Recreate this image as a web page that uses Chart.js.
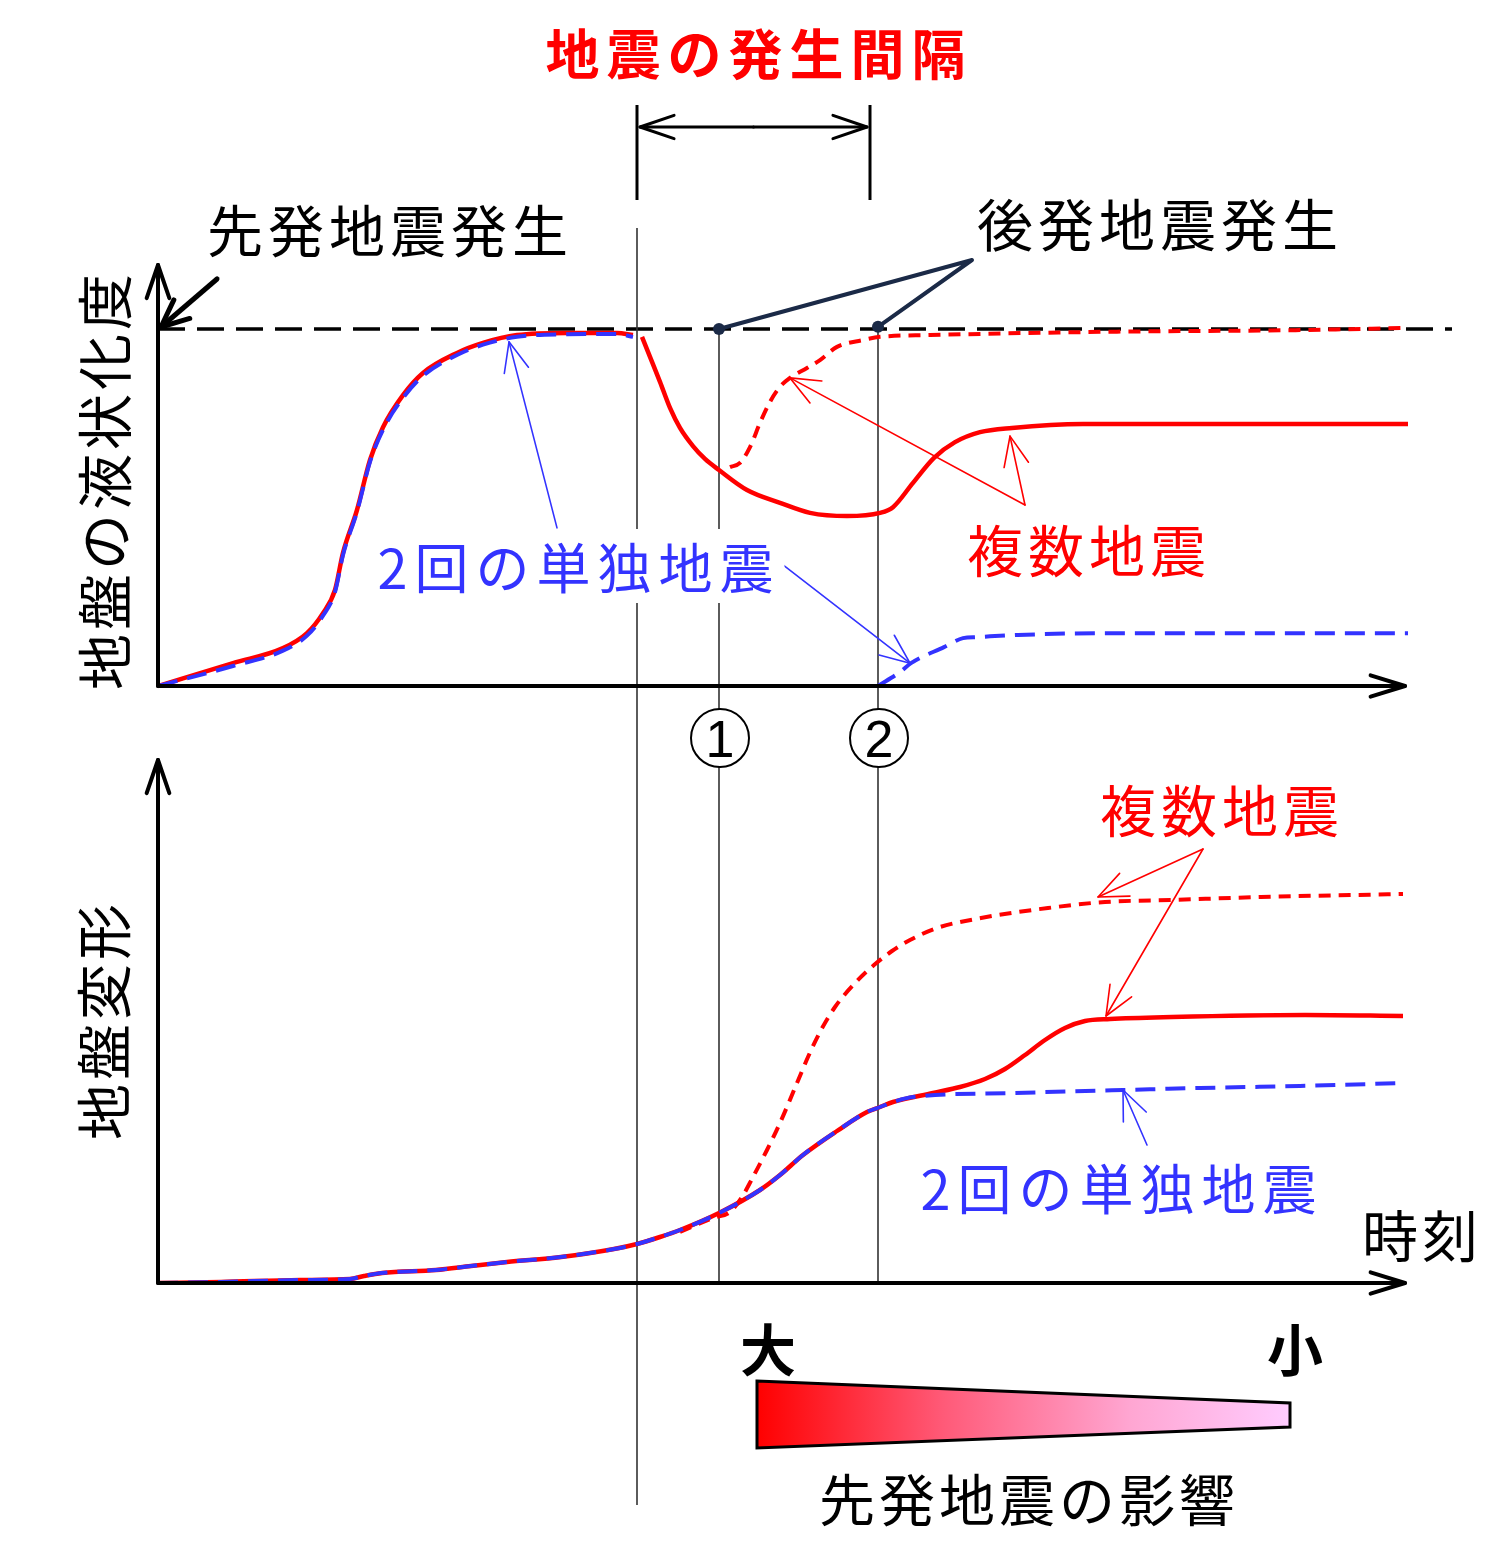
<!DOCTYPE html>
<html lang="ja">
<head>
<meta charset="utf-8">
<title>地震の発生間隔と地盤の液状化</title>
<script src="https://cdn.jsdelivr.net/npm/chart.js@4.4.1/dist/chart.umd.min.js"></script>
<style>
    html, body { margin: 0; padding: 0; background: #fff; }
    #wrap { position: relative; width: 1500px; height: 1543px; overflow: hidden; }
    #chart { position: absolute; left: 0; top: 0; }
    .lbl {
        position: absolute;
        transform: translate(-50%, -50%);
        font-family: "Noto Sans CJK JP", "Noto Sans", sans-serif;
        font-size: 56px;
        line-height: 1;
        white-space: nowrap;
        letter-spacing: 4px;
        padding-left: 4px;
        color: #000;
    }
    .red { color: #ff0000; }
    .blue { color: #3333ff; }
    .bold { font-weight: bold; }
    .vert { transform: translate(-50%, -50%) rotate(-90deg); }
    .num { font-family: "Liberation Sans", Arial, sans-serif; font-size: 52px; letter-spacing: 0; padding-left: 0; }
</style>
</head>
<body>
<div id="wrap">
    <canvas id="chart" width="1500" height="1543"></canvas>

    <div class="lbl red bold" style="left:757px; top:52px; font-size:54px; letter-spacing:7px;">地震の発生間隔</div>
    <div class="lbl" style="left:388px; top:228px; letter-spacing:5px;">先発地震発生</div>
    <div class="lbl" style="left:1158px; top:222px; letter-spacing:5px;">後発地震発生</div>
    <div class="lbl vert" style="left:102px; top:482px;">地盤の液状化度</div>
    <div class="lbl blue" style="left:577px; top:566px; background:#fff; padding:10px 4px 10px 8px; font-size:54px; letter-spacing:7px;">2回の単独地震</div>
    <div class="lbl red" style="left:1087px; top:548px; letter-spacing:5px;">複数地震</div>
    <div class="lbl num" style="left:720px; top:739px;">1</div>
    <div class="lbl num" style="left:879px; top:739px;">2</div>
    <div class="lbl vert" style="left:101px; top:1022px;">地盤変形</div>
    <div class="lbl red" style="left:1220px; top:808px; letter-spacing:5px;">複数地震</div>
    <div class="lbl blue" style="left:1120px; top:1187px; font-size:54px; letter-spacing:7px;">2回の単独地震</div>
    <div class="lbl" style="left:1420px; top:1233px;">時刻</div>
    <div class="lbl bold" style="left:768px; top:1347px; padding-left:0; letter-spacing:0;">大</div>
    <div class="lbl bold" style="left:1295px; top:1347px; padding-left:0; letter-spacing:0;">小</div>
    <div class="lbl" style="left:1027px; top:1497px;">先発地震の影響</div>
</div>

<script>
// ---- data (time in arbitrary units, liquefaction ratio 0..1, deformation arbitrary units) ----

// times of: first earthquake, second earthquake case 1 (short interval), case 2 (long interval)
const eventTimes = [47.9, 56.1, 72.0];

// liquefaction, first earthquake (multiple-earthquake curve, solid red)
const liqFirstT = [0, 7.5, 12.5, 14.9, 16.5, 17.7, 18.5, 19.9, 21.2, 22.5, 24.5, 26.5, 29.9, 32.5, 35.9, 40.9, 45.9, 47.5];
const liqFirstMulti = [0, 0.064, 0.106, 0.148, 0.204, 0.269, 0.373, 0.493, 0.633, 0.725, 0.815, 0.877, 0.933, 0.961, 0.983, 0.989, 0.989, 0.983];
// same, single earthquake (blue dashed)
const liqFirstSingle = [0, 0.056, 0.099, 0.141, 0.197, 0.263, 0.367, 0.488, 0.628, 0.718, 0.807, 0.869, 0.927, 0.956, 0.978, 0.985, 0.986, 0.978];

// liquefaction after the first earthquake, second earthquake at case 2 (solid red)
const liqLateT = [48.4, 49.2, 50.2, 51.2, 52.2, 53.5, 54.7, 56.1, 58.9, 62.2, 65.2, 68.9, 72.2, 73.5, 75.5, 77.6, 79.7, 82.2, 85.4, 92.5, 104.9, 125.0];
const liqLateMulti = [0.978, 0.922, 0.852, 0.779, 0.723, 0.672, 0.636, 0.605, 0.549, 0.513, 0.485, 0.476, 0.485, 0.501, 0.569, 0.639, 0.683, 0.711, 0.723, 0.734, 0.734, 0.734];

// second earthquake at case 1 (dashed red)
const liqEarlyT = [57.2, 58.2, 59.2, 60.2, 61.2, 62.2, 63.2, 64.9, 66.2, 67.9, 70.5, 72.2, 77.2, 94.2, 114.2, 125.0];
const liqEarlyMulti = [0.613, 0.625, 0.669, 0.737, 0.796, 0.838, 0.863, 0.891, 0.913, 0.950, 0.969, 0.978, 0.983, 0.992, 0.997, 1.003];

// second single earthquake (blue dashed)
const liqSecondT = [72.0, 74.2, 75.3, 78.6, 80.5, 81.9, 86.0, 94.9, 106.1, 125.0];
const liqSecondSingle = [0, 0.039, 0.064, 0.109, 0.134, 0.137, 0.143, 0.148, 0.148, 0.148];

// ground deformation, common part up to case 2
const defCommonT = [0, 6.3, 14.2, 19.2, 20.6, 22.4, 27.8, 31.3, 34.9, 40.3, 45.6, 47.9, 50.2, 52.2, 56.1, 60.2, 62.2, 64.5, 67.9, 70.9, 72.2];
const defCommon = [0, 0.1, 0.3, 0.4, 0.7, 1.0, 1.3, 1.7, 2.1, 2.6, 3.4, 3.9, 4.6, 5.3, 7.0, 9.3, 10.8, 12.8, 15.2, 17.1, 17.6];

// deformation after case 2: multiple (solid red) and single (blue dashed)
const defLateT = [73.5, 77.5, 80.2, 82.7, 84.7, 86.7, 88.7, 90.7, 92.7, 95.2, 101.4, 114.7, 124.5];
const defLateMulti = [18.1, 19.0, 19.6, 20.4, 21.4, 22.8, 24.3, 25.5, 26.2, 26.4, 26.6, 26.8, 26.7];
const defSingleT = [73.5, 75.5, 85.5, 96.5, 104.2, 114.2, 124.5];
const defSingle = [18.1, 18.6, 19.0, 19.3, 19.5, 19.7, 20.0];

// deformation, second earthquake at case 1 (dashed red)
const defEarlyT = [52.2, 55.5, 57.2, 58.4, 59.5, 60.9, 62.2, 63.9, 65.0, 66.2, 67.7, 69.9, 71.6, 73.4, 75.2, 77.9, 82.3, 89.0, 94.7, 101.4, 110.3, 124.5];
const defEarlyMulti = [5.1, 6.5, 7.1, 8.6, 10.6, 13.3, 16.0, 20.0, 22.6, 25.1, 27.6, 30.2, 31.8, 33.2, 34.3, 35.5, 36.5, 37.5, 38.1, 38.3, 38.6, 38.9];

// ---- layout ----
const RED = '#ff0000';
const BLUE = '#3333ff';
const NAVY = '#1b2a47';

const AREA_LEFT = 158, AREA_RIGHT = 1408, AREA_TOP = 265, AREA_BOTTOM = 1283;
const LIQ_ZERO_PX = 686, LIQ_ONE_PX = 329;   // top panel baseline and full liquefaction
const DEF_PX_PER_UNIT = 10;                  // bottom panel
const liqPerPx = 1 / (LIQ_ZERO_PX - LIQ_ONE_PX);

function pts(ts, vs) {
    return ts.map((t, i) => ({ x: t, y: vs[i] }));
}

function curve(data, axis, color, dash, order) {
    return {
        data: data,
        yAxisID: axis,
        borderColor: color,
        borderWidth: dash ? 4 : 4.5,
        borderDash: dash || [],
        pointRadius: 0,
        fill: false,
        cubicInterpolationMode: 'monotone',
        order: order
    };
}

// annotation pointers: [time, value] in the axis given
const pointers = [
    { axis: 'y', color: BLUE, from: [39.9, 0.443], to: [35.1, 0.964] },
    { axis: 'y', color: BLUE, from: [62.5, 0.339], to: [75.2, 0.064] },
    { axis: 'y', color: RED, from: [86.7, 0.507], to: [63.2, 0.863] },
    { axis: 'y', color: RED, from: [86.7, 0.507], to: [85.2, 0.700] },
    { axis: 'y2', color: RED, from: [104.5, 43.4], to: [94.0, 38.6] },
    { axis: 'y2', color: RED, from: [104.5, 43.4], to: [94.8, 26.7] },
    { axis: 'y2', color: BLUE, from: [98.9, 13.8], to: [96.5, 19.3] }
];

function seg(ctx, x1, y1, x2, y2) {
    ctx.beginPath();
    ctx.moveTo(x1, y1);
    ctx.lineTo(x2, y2);
    ctx.stroke();
}

function head(ctx, x1, y1, x2, y2, len, ang) {
    const a = Math.atan2(y2 - y1, x2 - x1);
    ctx.beginPath();
    ctx.moveTo(x2 - len * Math.cos(a - ang), y2 - len * Math.sin(a - ang));
    ctx.lineTo(x2, y2);
    ctx.lineTo(x2 - len * Math.cos(a + ang), y2 - len * Math.sin(a + ang));
    ctx.stroke();
}

function arrow(ctx, x1, y1, x2, y2, len, ang) {
    seg(ctx, x1, y1, x2, y2);
    head(ctx, x1, y1, x2, y2, len, ang);
}

const sketchPlugin = {
    id: 'sketch',
    beforeDatasetsDraw(chart) {
        const { ctx } = chart;
        const { x, y, y2 } = chart.scales;
        ctx.save();
        ctx.lineCap = 'butt';

        // full liquefaction reference
        ctx.strokeStyle = '#000';
        ctx.lineWidth = 3.5;
        ctx.setLineDash([27, 12]);
        seg(ctx, x.getPixelForValue(0), y.getPixelForValue(1), 1452, y.getPixelForValue(1));
        ctx.setLineDash([]);

        // earthquake time lines
        ctx.strokeStyle = '#333';
        ctx.lineWidth = 1.6;
        const t0 = x.getPixelForValue(eventTimes[0]);
        seg(ctx, t0, 228, t0, 1505);
        eventTimes.slice(1).forEach(t => {
            const px = x.getPixelForValue(t);
            seg(ctx, px, y.getPixelForValue(1), px, y2.getPixelForValue(0) - 2);
        });
        ctx.restore();
    },
    afterDatasetsDraw(chart) {
        const { ctx } = chart;
        const { x, y, y2 } = chart.scales;
        ctx.save();
        ctx.lineCap = 'round';
        ctx.lineJoin = 'round';

        // axes with open arrow heads
        ctx.strokeStyle = '#000';
        ctx.lineWidth = 4;
        const x0 = x.getPixelForValue(0);
        const xEnd = 1405;
        const topBase = y.getPixelForValue(0);
        const botBase = y2.getPixelForValue(0);
        arrow(ctx, x0, topBase, x0, AREA_TOP, 35, 0.33);
        arrow(ctx, x0, topBase, xEnd, topBase, 36, 0.3);
        arrow(ctx, x0, botBase, x0, 760, 35, 0.33);
        arrow(ctx, x0, botBase, xEnd, botBase, 36, 0.3);

        // pointer for the first earthquake label
        ctx.lineWidth = 5;
        arrow(ctx, 217, 279, x0 + 3, y.getPixelForValue(1) - 2, 30, 0.42);

        // interval bracket
        ctx.lineWidth = 3;
        ctx.lineCap = 'butt';
        const b1 = x.getPixelForValue(eventTimes[0]);
        const b2 = x.getPixelForValue(71.2);
        seg(ctx, b1, 105, b1, 200);
        seg(ctx, b2, 105, b2, 200);
        ctx.lineCap = 'round';
        arrow(ctx, (b1 + b2) / 2, 127, b1 + 3, 127, 36, 0.33);
        arrow(ctx, (b1 + b2) / 2, 127, b2 - 3, 127, 36, 0.33);

        // second earthquake callout
        ctx.strokeStyle = NAVY;
        ctx.fillStyle = NAVY;
        ctx.lineWidth = 4;
        const apexX = x.getPixelForValue(81.4), apexY = 260;
        const p1 = [x.getPixelForValue(eventTimes[1]), y.getPixelForValue(1)];
        const p2 = [x.getPixelForValue(eventTimes[2]), y.getPixelForValue(1.006)];
        ctx.beginPath();
        ctx.moveTo(p1[0], p1[1]);
        ctx.lineTo(apexX, apexY);
        ctx.lineTo(p2[0], p2[1]);
        ctx.stroke();
        [p1, p2].forEach(p => {
            ctx.beginPath();
            ctx.arc(p[0], p[1], 6, 0, Math.PI * 2);
            ctx.fill();
        });

        // thin pointers to the curves
        ctx.lineWidth = 1.6;
        pointers.forEach(pt => {
            const sc = chart.scales[pt.axis];
            ctx.strokeStyle = pt.color;
            arrow(ctx,
                x.getPixelForValue(pt.from[0]), sc.getPixelForValue(pt.from[1]),
                x.getPixelForValue(pt.to[0]), sc.getPixelForValue(pt.to[1]),
                32, 0.4);
        });

        // circled case numbers
        ctx.strokeStyle = '#000';
        ctx.fillStyle = '#fff';
        ctx.lineWidth = 2;
        eventTimes.slice(1).forEach(t => {
            ctx.beginPath();
            ctx.arc(x.getPixelForValue(t) + 1, 738, 29, 0, Math.PI * 2);
            ctx.fill();
            ctx.stroke();
        });

        // influence of the first earthquake (tapered wedge)
        const wL = x.getPixelForValue(59.9), wR = x.getPixelForValue(113.2);
        const grad = ctx.createLinearGradient(wL, 0, wR, 0);
        grad.addColorStop(0, '#ff0000');
        grad.addColorStop(0.35, '#ff5a78');
        grad.addColorStop(0.7, '#ffa6d2');
        grad.addColorStop(1, '#ffccff');
        ctx.beginPath();
        ctx.moveTo(wL, 1381);
        ctx.lineTo(wR, 1403);
        ctx.lineTo(wR, 1427);
        ctx.lineTo(wL, 1448);
        ctx.closePath();
        ctx.fillStyle = grad;
        ctx.fill();
        ctx.lineWidth = 3;
        ctx.lineJoin = 'miter';
        ctx.stroke();

        ctx.restore();
    }
};

new Chart(document.getElementById('chart'), {
    type: 'line',
    data: {
        datasets: [
            curve(pts(liqFirstT, liqFirstSingle), 'y', BLUE, [20, 10], 1),
            curve(pts(liqSecondT, liqSecondSingle), 'y', BLUE, [20, 10], 1),
            curve(pts(liqEarlyT, liqEarlyMulti), 'y', RED, [12, 8], 2),
            curve(pts(liqFirstT, liqFirstMulti), 'y', RED, null, 3),
            curve(pts(liqLateT, liqLateMulti), 'y', RED, null, 3),
            curve(pts(defCommonT.concat(defSingleT), defCommon.concat(defSingle)), 'y2', BLUE, [20, 10], 1),
            curve(pts(defEarlyT, defEarlyMulti), 'y2', RED, [12, 8], 2),
            curve(pts(defCommonT.concat(defLateT), defCommon.concat(defLateMulti)), 'y2', RED, null, 3)
        ]
    },
    options: {
        responsive: false,
        animation: false,
        devicePixelRatio: 1,
        layout: {
            padding: { left: AREA_LEFT, right: 1500 - AREA_RIGHT, top: AREA_TOP, bottom: 1543 - AREA_BOTTOM }
        },
        plugins: { legend: { display: false }, tooltip: { enabled: false } },
        scales: {
            x: { type: 'linear', min: 0, max: 125, display: false },
            y: {
                type: 'linear', display: false,
                min: (LIQ_ZERO_PX - AREA_BOTTOM) * liqPerPx,
                max: (LIQ_ZERO_PX - AREA_TOP) * liqPerPx
            },
            y2: {
                type: 'linear', display: false,
                min: 0,
                max: (AREA_BOTTOM - AREA_TOP) / DEF_PX_PER_UNIT
            }
        }
    },
    plugins: [sketchPlugin]
});
</script>
</body>
</html>
